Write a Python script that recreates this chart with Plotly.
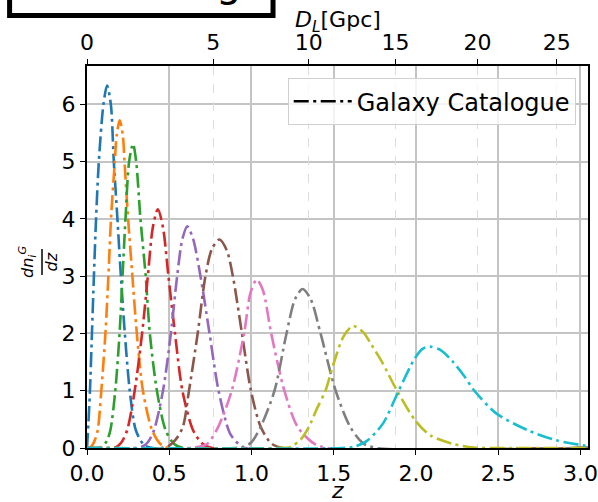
import numpy as np
import plotly.graph_objects as go

# ---- galaxy-catalogue redshift bins: sampled dn_i^G/dz curves ----
z_b1 = [0.0, 0.008, 0.018, 0.030, 0.042, 0.055, 0.072, 0.100, 0.122, 0.145, 0.163, 0.185, 0.206, 0.230, 0.260, 0.297, 0.345, 0.40, 3.05]
n_b1 = [0.0, 0.40, 1.0, 2.0, 3.0, 4.0, 5.0, 6.0, 6.33, 6.0, 5.0, 4.0, 3.0, 2.0, 1.0, 0.31, 0.06, 0.0, 0.0]

z_b2 = [0.0, 0.024, 0.045, 0.065, 0.087, 0.112, 0.130, 0.146, 0.169, 0.180, 0.199, 0.218, 0.228, 0.250, 0.276, 0.303, 0.340, 0.396, 0.45, 0.50, 3.05]
n_b2 = [0.0, 0.02, 0.12, 0.31, 1.0, 2.0, 3.0, 4.0, 5.0, 5.45, 5.72, 5.45, 5.0, 4.0, 3.0, 2.0, 1.0, 0.31, 0.06, 0.0, 0.0]

z_b3 = [0.0, 0.06, 0.09, 0.12, 0.142, 0.172, 0.198, 0.216, 0.234, 0.256, 0.280, 0.299, 0.325, 0.357, 0.382, 0.425, 0.478, 0.53, 0.59, 3.05]
n_b3 = [0.0, 0.0, 0.02, 0.12, 0.31, 1.0, 2.0, 3.0, 4.0, 5.0, 5.31, 5.0, 4.0, 3.0, 2.0, 1.0, 0.31, 0.07, 0.0, 0.0]

z_b4 = [0.0, 0.15, 0.18, 0.21, 0.244, 0.290, 0.335, 0.370, 0.400, 0.431, 0.462, 0.495, 0.535, 0.580, 0.645, 0.70, 0.76, 3.05]
n_b4 = [0.0, 0.0, 0.02, 0.10, 0.31, 1.0, 2.0, 3.0, 3.85, 4.17, 3.85, 3.0, 2.0, 1.0, 0.31, 0.08, 0.0, 0.0]

z_b5 = [0.0, 0.29, 0.34, 0.37, 0.407, 0.462, 0.510, 0.548, 0.580, 0.610, 0.645, 0.690, 0.745, 0.800, 0.870, 0.925, 0.96, 3.05]
n_b5 = [0.0, 0.0, 0.03, 0.10, 0.31, 1.0, 2.0, 3.0, 3.65, 3.87, 3.65, 3.0, 2.0, 1.0, 0.25, 0.06, 0.0, 0.0]

z_b6 = [0.0, 0.45, 0.50, 0.54, 0.583, 0.620, 0.673, 0.720, 0.760, 0.805, 0.850, 0.887, 0.942, 0.997, 1.056, 1.12, 1.19, 3.05]
n_b6 = [0.0, 0.0, 0.04, 0.15, 0.37, 1.0, 2.0, 3.0, 3.48, 3.64, 3.45, 3.0, 2.0, 1.0, 0.37, 0.08, 0.0, 0.0]

z_b7 = [0.0, 0.62, 0.68, 0.734, 0.798, 0.880, 0.955, 0.995, 1.032, 1.070, 1.120, 1.200, 1.280, 1.379, 1.46, 3.05]
n_b7 = [0.0, 0.0, 0.02, 0.08, 0.37, 1.0, 2.0, 2.72, 2.94, 2.75, 2.0, 1.0, 0.37, 0.08, 0.0, 0.0]

z_b8 = [0.0, 0.90, 0.955, 1.00, 1.056, 1.140, 1.213, 1.265, 1.311, 1.360, 1.420, 1.512, 1.600, 1.68, 1.76, 3.05]
n_b8 = [0.0, 0.0, 0.02, 0.10, 0.37, 1.0, 2.0, 2.6, 2.775, 2.6, 2.0, 1.0, 0.37, 0.08, 0.0, 0.0]

z_b9 = [0.0, 1.15, 1.238, 1.30, 1.349, 1.40, 1.45, 1.50, 1.56, 1.617, 1.68, 1.73, 1.794, 1.885, 1.996, 2.087, 2.228, 2.35, 2.45, 3.05]
n_b9 = [0.0, 0.0, 0.02, 0.15, 0.37, 0.70, 1.0, 1.48, 1.95, 2.13, 2.02, 1.80, 1.50, 1.0, 0.48, 0.22, 0.07, 0.01, 0.0, 0.0]

z_b10 = [0.0, 1.55, 1.62, 1.70, 1.80, 1.895, 1.99, 2.04, 2.085, 2.15, 2.22, 2.29, 2.355, 2.49, 2.68, 2.853, 3.03, 3.05]
n_b10 = [0.0, 0.0, 0.02, 0.12, 0.43, 1.0, 1.55, 1.73, 1.77, 1.71, 1.52, 1.27, 1.0, 0.60, 0.31, 0.135, 0.04, 0.035]

bins_z = [z_b1, z_b2, z_b3, z_b4, z_b5, z_b6, z_b7, z_b8, z_b9, z_b10]
bins_n = [n_b1, n_b2, n_b3, n_b4, n_b5, n_b6, n_b7, n_b8, n_b9, n_b10]

colors = ["#1f77b4", "#ff7f0e", "#2ca02c", "#d62728", "#9467bd",
          "#8c564b", "#e377c2", "#7f7f7f", "#bcbd22", "#17becf"]

z_ticks = [0.0, 0.5, 1.0, 1.5, 2.0, 2.5, 3.0]
y_ticks = [0, 1, 2, 3, 4, 5, 6]
dl_ticks = [0, 5, 10, 15, 20, 25]  # Gpc

z_max = 3.046
y_max = 6.67

# ---- flat LCDM luminosity distance, used to place the D_L ticks on the z axis ----
H0 = 66.6
Om = 0.3075
c_kms = 299792.458
zg = np.linspace(0.0, 4.0, 8001)
inv_E = 1.0 / np.sqrt(Om * (1 + zg) ** 3 + (1 - Om))
Dc = np.concatenate([[0.0], np.cumsum(0.5 * (inv_E[1:] + inv_E[:-1]) * np.diff(zg))]) * c_kms / H0
DL_gpc = (1 + zg) * Dc / 1000.0
dl_tick_z = np.interp(dl_ticks, DL_gpc, zg)

FONT = "DejaVu Sans"
DASH = "15px,4.5px,3px,4.5px"
TICK = 22

fig = go.Figure()
for zs, ns, col in zip(bins_z, bins_n, colors):
    fig.add_trace(go.Scatter(
        x=zs, y=ns, mode="lines",
        line=dict(color=col, width=2.6, dash=DASH, shape="spline", smoothing=0.8),
        showlegend=False, hoverinfo="skip",
    ))

# legend entry
fig.add_trace(go.Scatter(
    x=[None], y=[None], mode="lines", name="Galaxy Catalogue",
    line=dict(color="black", width=2.6, dash=DASH),
))
# invisible trace carrying the top axis
fig.add_trace(go.Scatter(x=[None], y=[None], xaxis="x2", showlegend=False, hoverinfo="skip"))

fig.update_layout(
    width=598, height=502,
    margin=dict(l=87, r=10, t=66, b=54),
    paper_bgcolor="white", plot_bgcolor="white",
    font=dict(family=FONT, size=TICK, color="black"),
    xaxis=dict(
        range=[0, z_max], tickmode="array", tickvals=z_ticks,
        ticktext=[f"{v:.1f}" for v in z_ticks],
        ticks="outside", ticklen=5, tickwidth=1.3, tickcolor="black",
        showline=True, linecolor="black", linewidth=2,
        showgrid=True, gridcolor="#c4c4c4", gridwidth=1.5,
        zeroline=False, tickfont=dict(size=TICK), automargin=False,
    ),
    xaxis2=dict(
        overlaying="x", side="top", anchor="y",
        range=[0, z_max], tickmode="array", tickvals=list(dl_tick_z),
        ticktext=[str(v) for v in dl_ticks],
        ticks="outside", ticklen=5, tickwidth=1.3, tickcolor="black",
        showline=True, linecolor="black", linewidth=2,
        showgrid=True, gridcolor="#dcdcdc", gridwidth=1, griddash="dash",
        zeroline=False, tickfont=dict(size=TICK), automargin=False,
    ),
    yaxis=dict(
        range=[0, y_max], tickmode="array", tickvals=y_ticks,
        ticks="outside", ticklen=5, tickwidth=1.3, tickcolor="black",
        showline=True, linecolor="black", linewidth=2, mirror=True,
        showgrid=True, gridcolor="#c4c4c4", gridwidth=1.5,
        zeroline=False, tickfont=dict(size=TICK), automargin=False,
    ),
    legend=dict(
        x=0.9755, y=0.968, xanchor="right", yanchor="top",
        bgcolor="rgba(255,255,255,0.8)", bordercolor="#d0d0d0", borderwidth=1,
        font=dict(family=FONT, size=24), itemwidth=58,
    ),
)

ann = [
    # axis titles
    dict(text="<i>z</i>", x=0.5, y=-0.112, xref="paper", yref="paper",
         xanchor="center", yanchor="middle", showarrow=False, font=dict(size=22)),
    dict(text="<i>D</i><sub><i>L</i></sub>[Gpc]", x=0.5, y=1.117, xref="paper", yref="paper",
         xanchor="center", yanchor="middle", showarrow=False, font=dict(size=22)),
    # rotated fraction dn_i^G / dz
    dict(text="<i>dn</i><sub><i>i</i></sub><sup><i>G</i></sup>", x=-0.1198, y=0.4869,
         xref="paper", yref="paper", xanchor="center", yanchor="middle",
         textangle=-90, showarrow=False, font=dict(size=16)),
    dict(text="<i>dz</i>", x=-0.0709, y=0.4869,
         xref="paper", yref="paper", xanchor="center", yanchor="middle",
         textangle=-90, showarrow=False, font=dict(size=16)),
    # panel tag at the top-left
    dict(text="g", x=0.2834, y=1.1545, xref="paper", yref="paper",
         xanchor="center", yanchor="bottom", showarrow=False, font=dict(size=40)),
]
fig.update_layout(annotations=ann)

fig.add_shape(type="line", xref="paper", yref="paper",
              x0=-0.0898, x1=-0.0898, y0=0.4529, y1=0.5209,
              line=dict(color="black", width=1.5))
fig.add_shape(type="rect", xref="paper", yref="paper",
              x0=-0.1545, x1=0.3713, y0=1.1322, y1=1.35,
              line=dict(color="black", width=5), fillcolor="rgba(0,0,0,0)")

fig.write_html("out.html")
